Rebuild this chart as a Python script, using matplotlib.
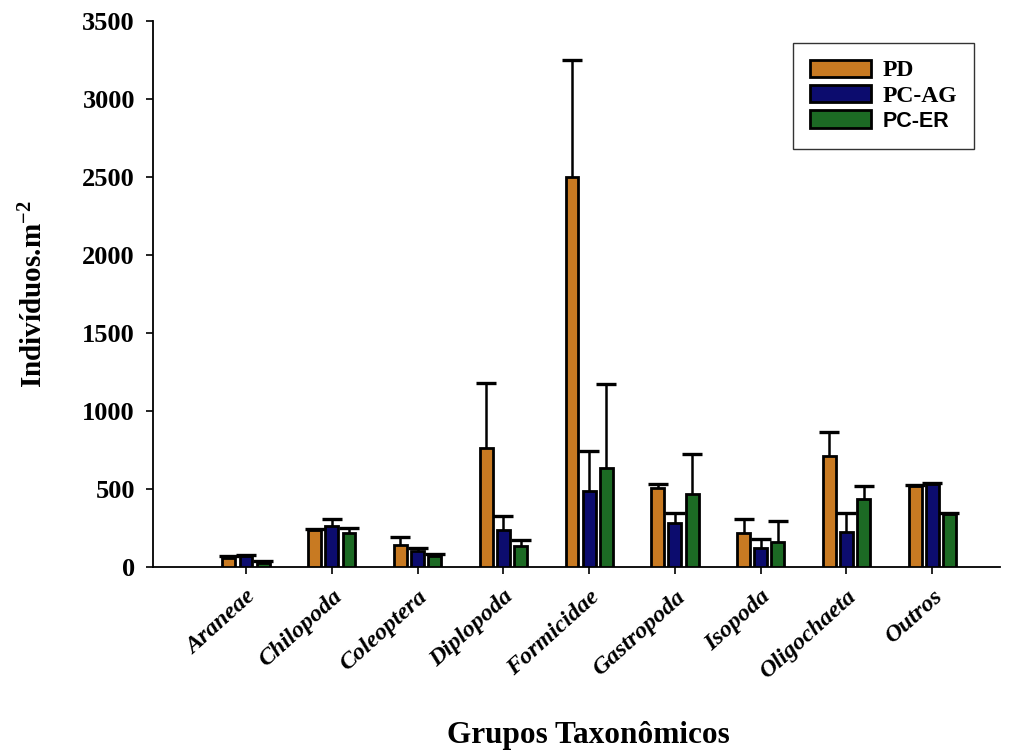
import numpy as np
import matplotlib.pyplot as plt
from matplotlib.patches import Patch

plt.rcParams['font.family'] = 'Liberation Serif'
plt.rcParams['font.weight'] = 'bold'
plt.rcParams['mathtext.fontset'] = 'custom'
plt.rcParams['mathtext.bf'] = 'Liberation Serif:bold'
plt.rcParams['mathtext.rm'] = 'Liberation Serif:bold'
plt.rcParams['mathtext.default'] = 'bf'

grupos = ['Araneae', 'Chilopoda', 'Coleoptera', 'Diplopoda', 'Formicidae',
          'Gastropoda', 'Isopoda', 'Oligochaeta', 'Outros']

# médias (indivíduos por m2) e desvios
pd_media = [60, 235, 140, 760, 2500, 505, 220, 710, 520]
pd_erro = [10, 10, 55, 420, 750, 25, 85, 155, 8]
ag_media = [72, 260, 105, 235, 490, 285, 125, 225, 530]
ag_erro = [8, 50, 20, 92, 255, 58, 55, 118, 8]
er_media = [28, 220, 70, 135, 635, 465, 160, 435, 340]
er_erro = [8, 30, 12, 35, 535, 260, 135, 83, 8]

tratamentos = ['PD', 'PC-AG', 'PC-ER']
cores = ['#C87A22', '#0C0C6E', '#1C6A24']

fig = plt.figure(figsize=(10.09, 7.51), dpi=100)
ax = fig.add_axes([153/1009, 1-567/751, 847/1009, 546/751])

x = np.arange(len(grupos))
w = 0.15
desloc = 0.2
series = [(pd_media, pd_erro), (ag_media, ag_erro), (er_media, er_erro)]
for i, (m, e) in enumerate(series):
    pos = x + (i - 1)*desloc
    ax.bar(pos, m, w, color=cores[i], edgecolor='black', linewidth=2, zorder=3)
    eb = ax.errorbar(pos, m, yerr=[np.zeros(len(e)), e], fmt='none', ecolor='black',
                     elinewidth=1.8, capsize=7.5, capthick=2.4, zorder=4)
    # só a barra de erro superior
    eb[1][0].set_visible(False)

ax.set_xlim(-1.085, 8.79)
ax.set_ylim(0, 3500)
ax.set_yticks(np.arange(0, 3501, 500))
ax.set_xticks(x)
ax.set_xticklabels(grupos, rotation=42, ha='right', rotation_mode='anchor',
                   fontsize=17.5, fontstyle='italic', fontweight='bold')
for lb in ax.get_yticklabels():
    lb.set_fontsize(19)
    lb.set_fontweight('bold')
ax.tick_params(axis='y', length=5, width=1.2, pad=8)
ax.tick_params(axis='x', length=5, width=1.2, pad=9)
for s in ['top', 'right']:
    ax.spines[s].set_visible(False)
ax.spines['left'].set_linewidth(1.3)
ax.spines['bottom'].set_linewidth(1.3)

ax.set_ylabel('Indivíduos.m$^{-2}$', fontsize=21, fontweight='bold')
ax.yaxis.set_label_coords(-0.124, 0.5)
ax.set_xlabel('Grupos Taxonômicos', fontsize=22.5, fontweight='bold')
ax.xaxis.set_label_coords(0.514, -0.282)

handles = [Patch(facecolor=c, edgecolor='black', linewidth=2) for c in cores]
leg = fig.legend(handles, tratamentos, loc='upper right',
                 bbox_to_anchor=(974/1009, 1-43/751), bbox_transform=fig.transFigure,
                 borderaxespad=0, fancybox=False, edgecolor='black',
                 prop={'family': 'Liberation Serif', 'weight': 'bold', 'size': 17},
                 handlelength=2.6, handleheight=0.75, handletextpad=0.5,
                 labelspacing=0.15, borderpad=0.7)
leg.get_frame().set_linewidth(1.0)
leg.get_texts()[2].set_family('Liberation Sans')
leg.get_texts()[2].set_size(15.5)

fig.savefig('out.png', dpi=100)
